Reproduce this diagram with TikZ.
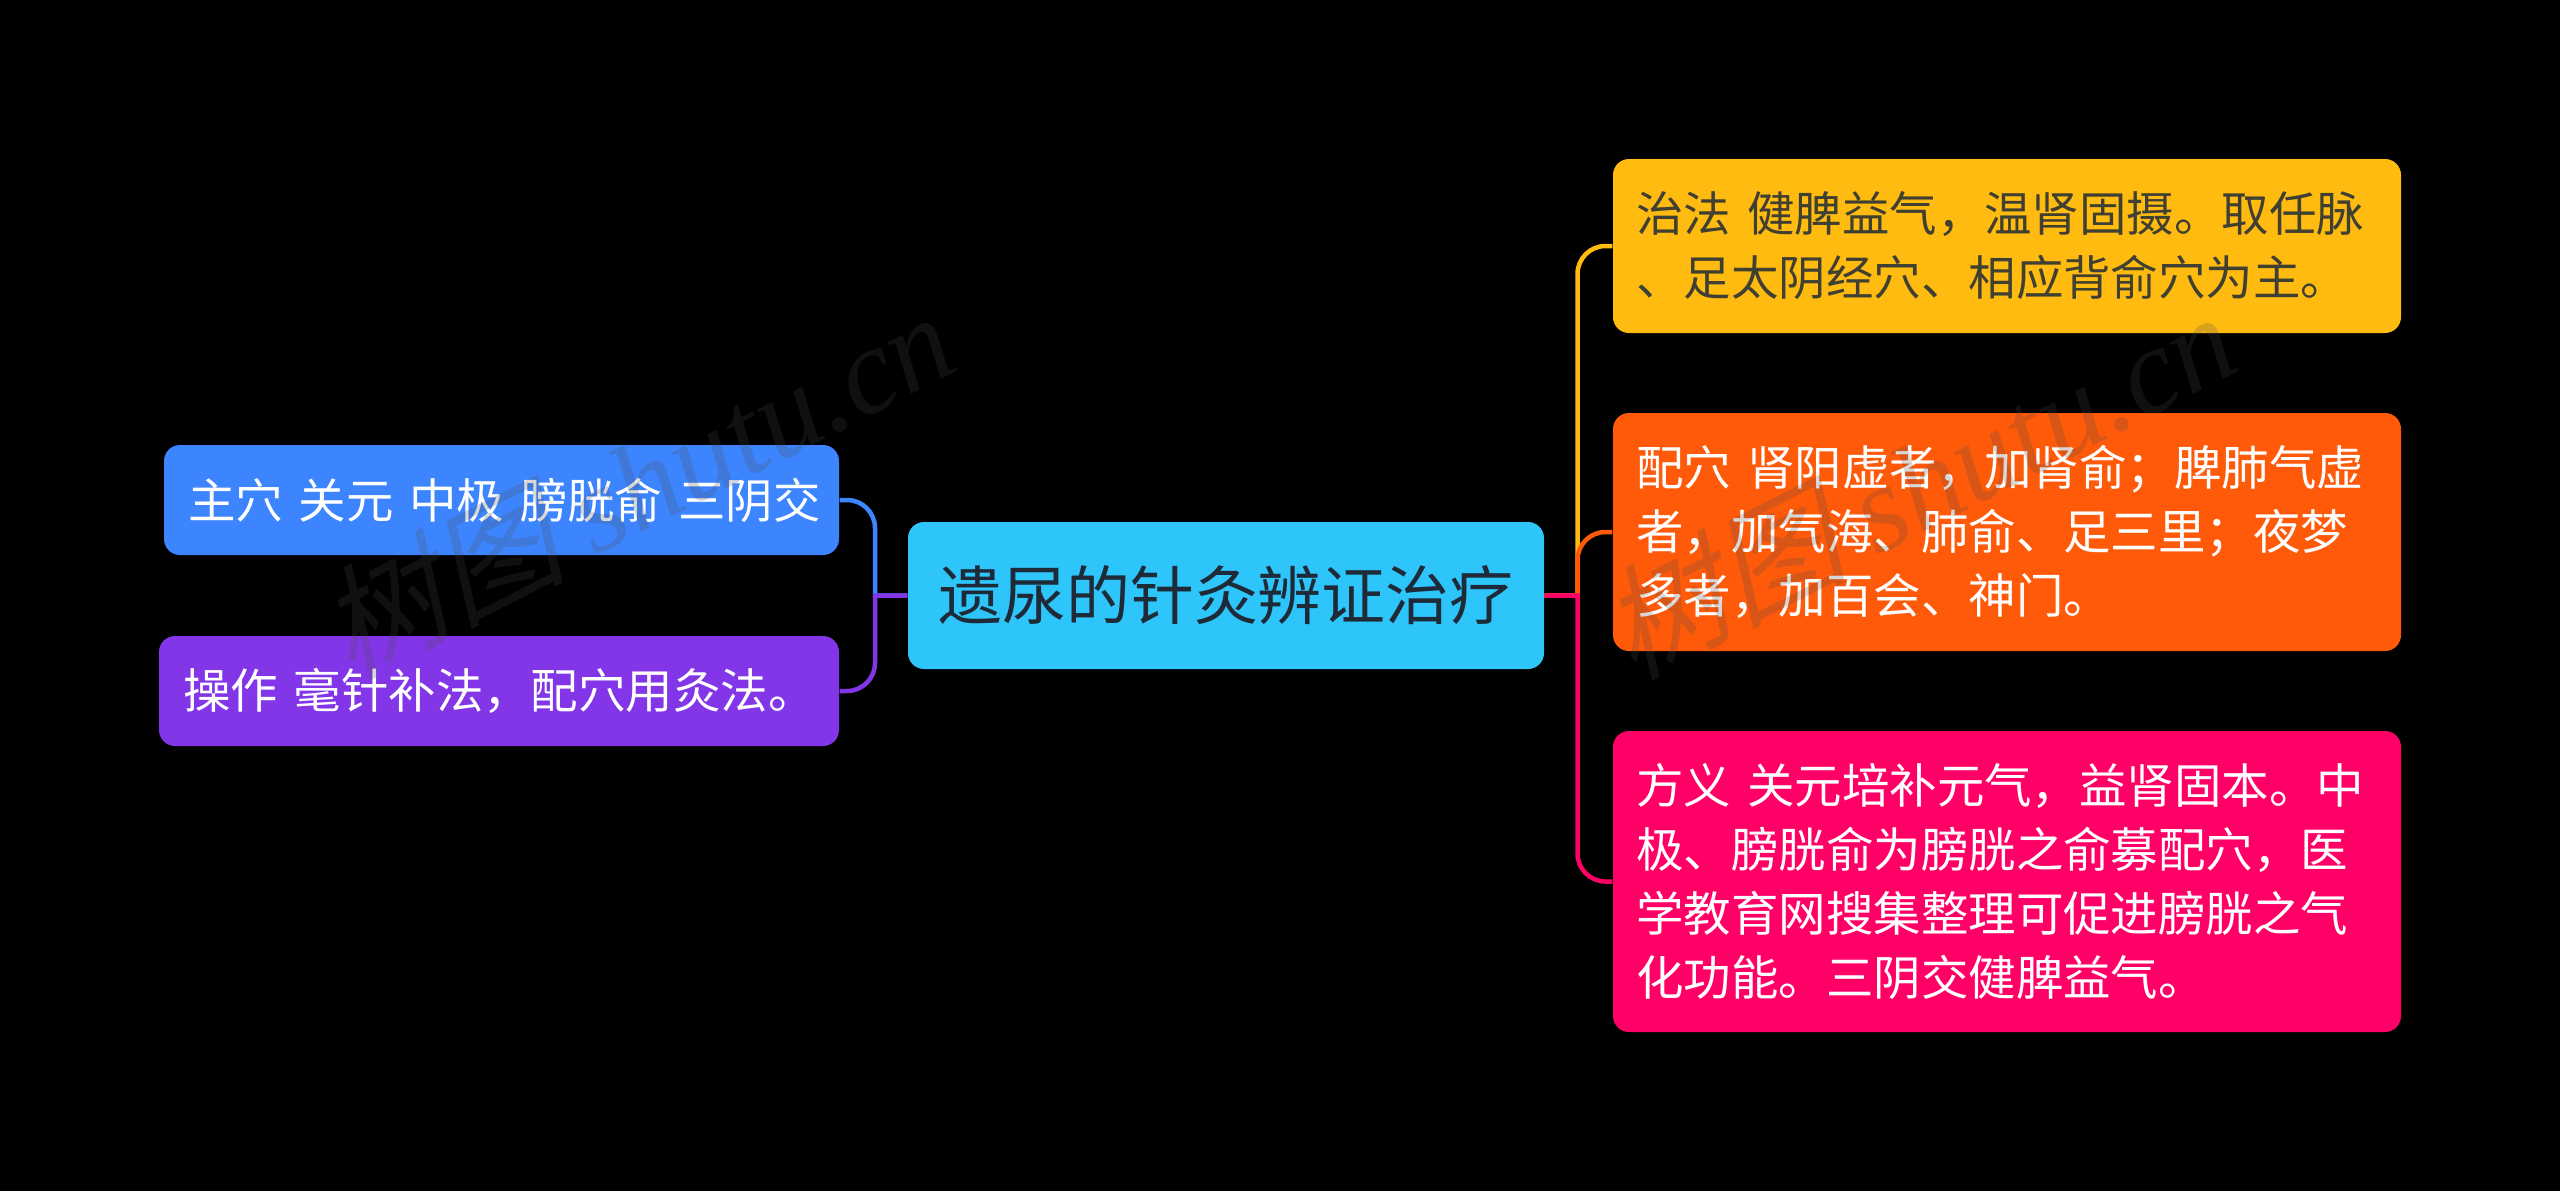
\documentclass[tikz,border=0pt]{standalone}
\usepackage{fontspec}
\setmainfont{Noto Sans CJK SC}
\newfontfamily\wmcjk[FakeSlant=0.25]{Noto Sans CJK SC}
\newfontfamily\wmlatin{Liberation Serif}
\usepackage{tikz}
\definecolor{rootblue}{HTML}{2DC5FA}
\definecolor{darktext}{HTML}{1E2A38}
\definecolor{yellowbox}{HTML}{FFBB0F}
\definecolor{orangebox}{HTML}{FF5A09}
\definecolor{pinkbox}{HTML}{FF0066}
\definecolor{bluebox}{HTML}{3D85FF}
\definecolor{purplebox}{HTML}{8236E8}
\tikzset{
box/.style={rounded corners=0.16cm,inner sep=0pt,align=left,text=white,
  font=\fontsize{13.5}{18.2}\selectfont},
link/.style={line width=0.045cm},
mark text/.style={rotate=27,text=black!70,opacity=0.22,anchor=base west,inner sep=0pt},
}

\begin{document}
\begin{tikzpicture}
\fill[black] (0,0) rectangle (25.6,11.91);
\useasboundingbox (0,0) rectangle (25.6,11.91);

\node[box,fill=rootblue,text=darktext,minimum width=6.36cm,minimum height=1.47cm,align=center,
  font=\fontsize{18.2}{24}\selectfont] (root) at (12.26,5.955) {遗尿的针灸辨证治疗};

\node[box,fill=yellowbox,text=darktext!85!yellowbox,minimum height=1.74cm,text width=7.41cm,
  minimum width=7.88cm] (zhifa) at (20.07,9.45) {治法 健脾益气，温肾固摄。取任脉\\、足太阴经穴、相应背俞穴为主。};
\node[box,fill=orangebox,minimum height=2.38cm,text width=7.41cm,
  minimum width=7.88cm] (peixue) at (20.07,6.59) {配穴 肾阳虚者，加肾俞；脾肺气虚\\者，加气海、肺俞、足三里；夜梦\\多者，加百会、神门。};
\node[box,fill=pinkbox,minimum height=3.01cm,text width=7.41cm,
  minimum width=7.88cm] (fangyi) at (20.07,3.095) {方义 关元培补元气，益肾固本。中\\极、膀胱俞为膀胱之俞募配穴，医\\学教育网搜集整理可促进膀胱之气\\化功能。三阴交健脾益气。};

\node[box,fill=bluebox,minimum height=1.10cm,text width=6.27cm,
  minimum width=6.75cm] (zhuxue) at (5.015,6.91) {\mbox{主穴 关元 中极 膀胱俞 三阴交}};
\node[box,fill=purplebox,minimum height=1.10cm,text width=6.32cm,
  minimum width=6.80cm] (caozuo) at (4.99,5.00) {\mbox{操作 毫针补法，配穴用灸法。}};

\coordinate (rtrunk) at (15.775,5.955);
\coordinate (ltrunk) at (8.75,5.955);

\draw[link,color=yellowbox] (root.east) -- (rtrunk) [rounded corners=0.28cm] |- (zhifa.west);
\draw[link,color=orangebox] (root.east) -- (rtrunk) [rounded corners=0.28cm] |- (peixue.west);
\draw[link,color=pinkbox] (root.east) -- (rtrunk) [rounded corners=0.28cm] |- (fangyi.west);
\draw[link,color=bluebox] (root.west) -- (ltrunk) [rounded corners=0.28cm] |- (zhuxue.east);
\draw[link,color=purplebox] (root.west) -- (ltrunk) [rounded corners=0.28cm] |- (caozuo.east);

\node[mark text] (markleft) at (3.5,5.1) {\fontsize{35}{35}\selectfont\wmcjk 树图\ \wmlatin\itshape shutu.cn};
\node[mark text] (markright) at (16.32,5.1) {\fontsize{35}{35}\selectfont\wmcjk 树图\ \wmlatin\itshape shutu.cn};
\end{tikzpicture}
\end{document}
